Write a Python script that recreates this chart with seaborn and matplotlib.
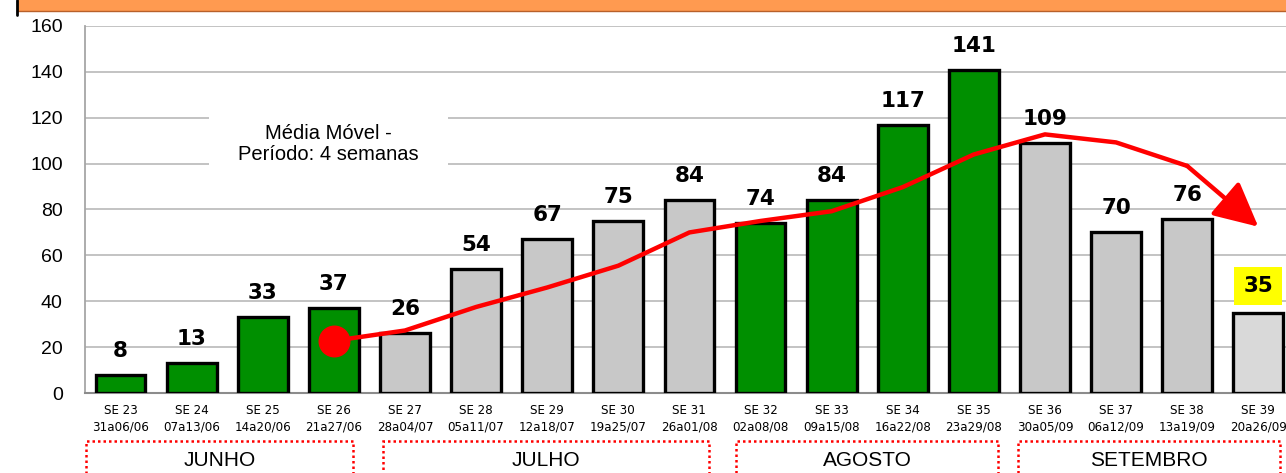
import matplotlib
matplotlib.use("Agg")
import matplotlib.pyplot as plt
from matplotlib.patches import Rectangle
from matplotlib.lines import Line2D
import seaborn as sns
import pandas as pd

# weekly cases (SE 23 .. SE 39)
semanas = ['SE 23', 'SE 24', 'SE 25', 'SE 26', 'SE 27', 'SE 28', 'SE 29', 'SE 30', 'SE 31',
           'SE 32', 'SE 33', 'SE 34', 'SE 35', 'SE 36', 'SE 37', 'SE 38', 'SE 39']
periodos = ['31a06/06', '07a13/06', '14a20/06', '21a27/06', '28a04/07', '05a11/07', '12a18/07',
            '19a25/07', '26a01/08', '02a08/08', '09a15/08', '16a22/08', '23a29/08', '30a05/09',
            '06a12/09', '13a19/09', '20a26/09']
casos = [8, 13, 33, 37, 26, 54, 67, 75, 84, 74, 84, 117, 141, 109, 70, 76, 35]
cores = ['#008F00'] * 4 + ['#C8C8C8'] * 5 + ['#008F00'] * 4 + ['#C8C8C8'] * 3 + ['#D9D9D9']

# moving average (4 weeks), from SE 26 to SE 39
media_semanas = semanas[3:]
media_movel = [22.75, 27.25, 37.5, 46, 55.5, 70, 75, 79.25, 89.75, 104, 112.75, 109.25, 99, 72.5]

# month groups: label, first week, last week
meses = ['JUNHO', 'JULHO', 'AGOSTO', 'SETEMBRO']
mes_inicio = ['SE 23', 'SE 27', 'SE 32', 'SE 36']
mes_fim = ['SE 26', 'SE 31', 'SE 35', 'SE 39']

df = pd.DataFrame({'semana': semanas, 'casos': casos})

sns.set_style('white')
plt.rcParams['font.family'] = ['DejaVu Sans']
plt.rcParams['text.color'] = 'black'

W, H = 1286, 473
fig = plt.figure(figsize=(W / 100, H / 100), dpi=100)
ax = fig.add_axes([85 / W, 80 / H, (W - 85) / W, 367 / H])

sns.barplot(data=df, x='semana', y='casos', hue='semana', palette=cores, legend=False,
            width=0.70, edgecolor='black', linewidth=2.4, saturation=1, ax=ax, zorder=3)

ax.set_yticks(range(0, 161, 20))
ax.yaxis.grid(True, color='#BEBEBE', linewidth=1.3, zorder=0)
ax.set_axisbelow(True)
ax.set_xlabel('')
ax.set_ylabel('')
for s in ['top', 'right']:
    ax.spines[s].set_visible(False)
ax.spines['left'].set_color('#A6A6A6')
ax.spines['bottom'].set_color('#8C8C8C')
ax.spines['left'].set_linewidth(1.3)
ax.spines['bottom'].set_linewidth(1.5)

ax.tick_params(axis='y', length=6, color='#A6A6A6', pad=10, labelsize=14, labelcolor='black')
for t in ax.get_yticklabels():
    t.set_family('Liberation Sans')

ax.set_xticks(range(len(semanas)))
ax.set_xticklabels([f'{s}\n{p}' for s, p in zip(semanas, periodos)], fontsize=8.6,
                   linespacing=1.35, color='black')
ax.set_xticks([i - 0.5 for i in range(len(semanas) + 1)], minor=True)
ax.tick_params(axis='x', which='major', length=0, pad=8)
ax.tick_params(axis='x', which='minor', length=4, color='#A6A6A6', width=1)

# value labels on top of bars
for i, v in enumerate(casos):
    if i == len(casos) - 1:
        ax.annotate(str(v), (i, v), xytext=(0, 15), textcoords='offset points', ha='center',
                    va='baseline', fontsize=15.5, fontweight='bold', color='black', zorder=5,
                    bbox=dict(boxstyle='square,pad=0.42', fc='#FFFF00', ec='none'))
    else:
        ax.annotate(str(v), (i, v), xytext=(0, 13), textcoords='offset points', ha='center',
                    va='baseline', fontsize=15.5, fontweight='bold', color='black', zorder=5)

# moving average line with arrow at the end
pos_media = [semanas.index(s) for s in media_semanas]
sns.lineplot(x=pos_media[:-1], y=media_movel[:-1], color='#FF0000', linewidth=3.2, ax=ax,
             zorder=6)
ax.plot(pos_media[0], media_movel[0], 'o', color='#FF0000', markersize=22, zorder=7)
ax.annotate('', xy=(pos_media[-1], media_movel[-1]), xytext=(pos_media[-2], media_movel[-2]),
            arrowprops=dict(arrowstyle='-|>,head_length=0.9,head_width=0.45', color='#FF0000',
                            lw=3.2, mutation_scale=30, shrinkA=0, shrinkB=0), zorder=6)

ax.text(2.92, 108.5, 'Média Móvel -\nPeríodo: 4 semanas', ha='center', va='center',
        fontsize=14.5, family='Liberation Sans', linespacing=1.15, zorder=2,
        bbox=dict(boxstyle='square,pad=1.45', fc='white', ec='none'))

ax.set_ylim(0, 160)
ax.set_xlim(-0.5, 16.39)

# month boxes under the axis (insets from the week boundaries)
inset_esq = [0.02, 0.19, 0.16, 0.12]
inset_dir = [0.23, 0.23, 0.16, 0.19]
trans = ax.get_xaxis_transform()
for m, a, b, ie, idr in zip(meses, mes_inicio, mes_fim, inset_esq, inset_dir):
    x0 = semanas.index(a) - 0.5 + ie
    x1 = semanas.index(b) + 0.5 - idr
    ax.add_patch(Rectangle((x0, -0.32), x1 - x0, 0.19, transform=trans, fill=False,
                           ec='#FF0000', lw=1.8, ls=(0, (1, 1.2)), clip_on=False))
    ax.text((x0 + x1) / 2, -0.184, m, transform=trans, ha='center', va='center',
            fontsize=15, family='Liberation Sans', clip_on=False)

# orange header band
fig.patches.append(Rectangle((17 / W, 1 - 11 / H), 1, 11 / H, transform=fig.transFigure,
                             fc='#FF9A50', ec='none'))
fig.lines.append(Line2D([17 / W, 1], [1 - 11 / H, 1 - 11 / H], transform=fig.transFigure,
                        color='#B8602A', lw=1))
fig.lines.append(Line2D([17 / W, 17 / W], [1, 1 - 15 / H], transform=fig.transFigure,
                        color='black', lw=2))

fig.savefig('out.png', dpi=100)
